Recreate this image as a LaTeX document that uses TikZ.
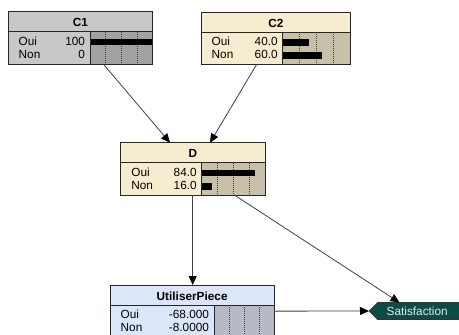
\documentclass[tikz,border=0pt]{standalone}
\usepackage{fontspec}
\setmainfont{Liberation Sans}
\usetikzlibrary{arrows.meta,calc}
\definecolor{greyhdr}{HTML}{C8C8C8}
\definecolor{greybar}{HTML}{A2A2A2}
\definecolor{creamhdr}{HTML}{F6ECCF}
\definecolor{creambar}{HTML}{C9C0AA}
\definecolor{bluehdr}{HTML}{DCE6FA}
\definecolor{bluebar}{HTML}{B6BAC6}
\definecolor{tealfill}{HTML}{0D4B47}
\definecolor{tealtext}{HTML}{DDF0EE}
\definecolor{linegrey}{HTML}{404040}
\tikzset{
  boxframe/.style={draw=black!85, line width=0.9pt},
  hdrtext/.style={font=\fontsize{11.8}{13}\selectfont\bfseries, inner sep=0pt},
  rowtext/.style={font=\fontsize{11.8}{13}\selectfont, inner sep=0pt},
  gridline/.style={draw=black!75, line width=0.7pt, dash pattern=on 1pt off 1pt},
  link/.style={draw=linegrey, line width=0.8pt,
    -{Triangle[length=9pt,width=8pt,color=black]}},
}
% #1 name, #2 left, #3 top, #4 right, #5 divider x, #6 colour prefix, #7 title
\newcommand\netbox[7]{%
  \node[anchor=north west, inner sep=0pt, outer sep=0pt, fill=#6hdr,
        minimum width={#4-#2}, minimum height=52.3] (#1) at (#2,#3) {};
  \fill[#6bar] (#5,#3+20) rectangle (#4,#3+52.3);
  \foreach \f in {0.25,0.5,0.75}
    \draw[gridline] ({#5+\f*(#4-#5)},#3+20) -- ({#5+\f*(#4-#5)},#3+52.3);
  \node[hdrtext, anchor=base] (#1-title) at ({(#2+#4)/2},#3+15) {#7};
}
\newcommand\netframe[5]{% name, left, top, right, divider
  \draw[boxframe] (#2,#3+20) -- (#4,#3+20) (#5,#3+20) -- (#5,#3+52.3);
  \draw[boxframe] (#1.north west) rectangle (#1.south east);
}
% #1 node name, #2 left, #3 divider, #4 right, #5 baseline y, #6 label, #7 value, #8 fraction
\newcommand\netrow[8]{%
  \node[rowtext, anchor=base west] (#1-l) at (#2+10.5,#5) {#6};
  \node[rowtext, anchor=base east] (#1-v) at (#3-4.8,#5) {#7};
  \fill[black] (#3,#5-6.2) rectangle ({#3+#8*(#4-#3)},#5+0.2);
}
\begin{document}
\begin{tikzpicture}[x=1pt,y=-1pt]
\useasboundingbox (0,0) rectangle (459,335);
\clip (0,0) rectangle (459,335);
\fill[white] (0,0) rectangle (459,335);

% C1
\netbox{C1}{8}{11.7}{152.7}{90}{grey}{C1}
\netrow{C1oui}{8}{90}{152.7}{45}{Oui}{100}{1}
\netrow{C1non}{8}{90}{152.7}{58.3}{Non}{0}{0}
\netframe{C1}{8}{11.7}{152.7}{90}

% C2
\netbox{C2}{201}{12}{350.7}{282.7}{cream}{C2}
\netrow{C2oui}{201}{282.7}{350.7}{45.3}{Oui}{40.0}{0.39}
\netrow{C2non}{201}{282.7}{350.7}{58.6}{Non}{60.0}{0.58}
\netframe{C2}{201}{12}{350.7}{282.7}

% D
\netbox{D}{120.7}{142.7}{265}{201.7}{cream}{D}
\netrow{Doui}{120.7}{201.7}{265}{176}{Oui}{84.0}{0.84}
\netrow{Dnon}{120.7}{201.7}{265}{189.3}{Non}{16.0}{0.16}
\netframe{D}{120.7}{142.7}{265}{201.7}

% UtiliserPiece
\netbox{U}{110}{285}{274.3}{214}{blue}{UtiliserPiece}
\netrow{Uoui}{110}{214}{274.3}{318.3}{Oui}{-68.000}{0}
\netrow{Unon}{110}{214}{274.3}{331.6}{Non}{-8.0000}{0}
\netframe{U}{110}{285}{274.3}{214}

% Satisfaction
\fill[tealfill, draw=black!80, line width=0.7pt]
  (369,311) -- (377.5,302.5) -- (460,302.5) -- (460,319.5) -- (377.5,319.5) -- cycle;
\node[rowtext, text=tealtext, anchor=base] (S) at (417.2,315.2) {Satisfaction};
\coordinate (Stip) at (369,311);
\coordinate (Stop) at (399.5,302.5);

% connectors
\draw[link] ($(C1.south west)+(95.3,0)$) -- ($(D.north west)+(49.3,0)$);
\draw[link] ($(C2.south west)+(55.7,0)$) -- ($(D.north west)+(89.3,0)$);
\draw[link] ($(D.south west)+(72,0)$) -- ($(U.north west)+(82.7,0)$);
\draw[link] ($(D.south west)+(113.6,0)$) -- (Stop);
\draw[link] (U.east) -- (Stip);
\end{tikzpicture}
\end{document}
